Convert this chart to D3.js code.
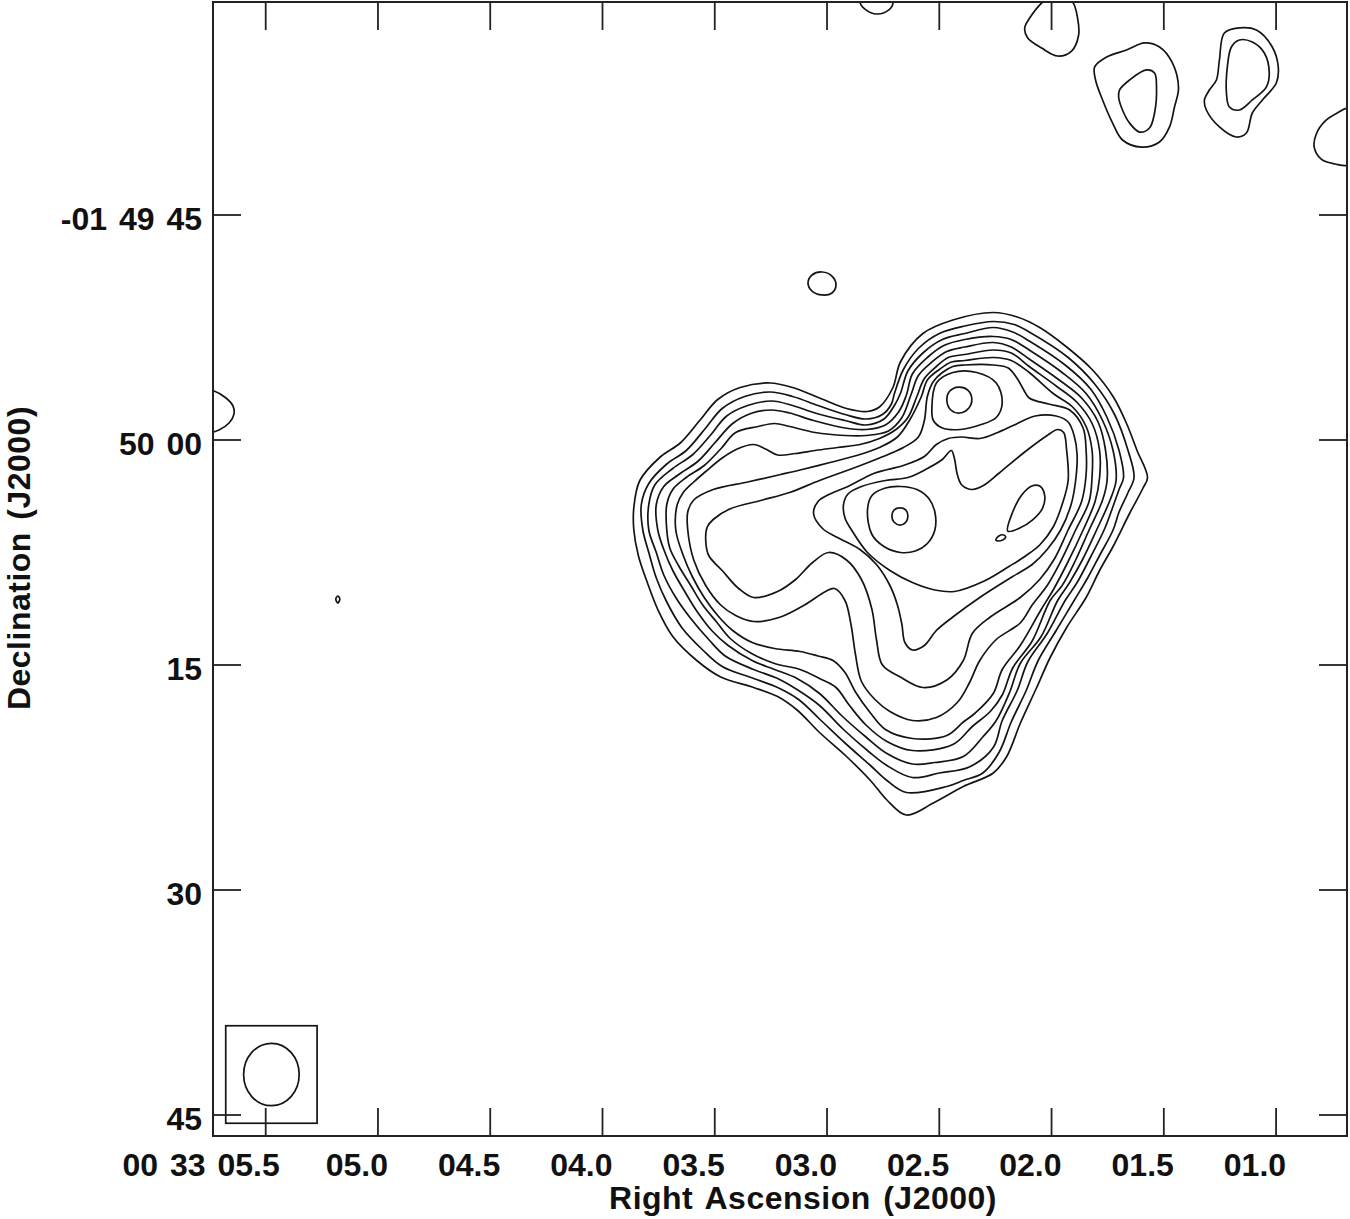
<!DOCTYPE html>
<html><head><meta charset="utf-8">
<script src="https://cdn.jsdelivr.net/npm/d3@7"></script>
<style>body{margin:0;background:#fff}</style>
</head><body>
<svg id="chart" width="1350" height="1219"></svg>
<script>
// ---------------- DATA ----------------
// Positions are offsets in arcsec from RA 00 33 03.0, Dec -01 50 00 (J2000):
// [east offset (arcsec, +E = left), north offset (arcsec)]
const raTickSec = [5.5, 5.0, 4.5, 4.0, 3.5, 3.0, 2.5, 2.0, 1.5, 1.0];
const raTickLabels = ["00 33 05.5", "05.0", "04.5", "04.0", "03.5", "03.0", "02.5", "02.0", "01.5", "01.0"];
const decTickArcsec = [15, 0, -15, -30, -45];
const decTickLabels = ["-01 49 45", "50 00", "15", "30", "45"];

const L1 = [[12.9,-6.0],[12.9,-4.5],[12.5,-2.7],[11.1,-1.1],[9.8,-0.2],[8.5,1.3],[7.3,2.7],[5.8,3.5],[3.8,3.8],[2.3,3.5],[0.5,2.8],[-1.3,2.1],[-2.7,1.9],[-3.5,2.2],[-4.4,3.5],[-4.9,5.2],[-6.4,7.1],[-8.4,8.0],[-11.1,8.5],[-12.7,8.2],[-14.2,7.5],[-16.0,6.2],[-17.7,4.7],[-19.1,2.9],[-20.0,1.1],[-20.7,-0.7],[-21.4,-2.5],[-21.1,-3.2],[-20.2,-4.9],[-19.1,-7.1],[-18.2,-8.7],[-17.3,-10.5],[-16.0,-12.5],[-14.9,-14.5],[-14.0,-16.5],[-12.9,-18.9],[-12.0,-21.1],[-11.1,-22.2],[-9.1,-23.1],[-7.1,-24.2],[-5.3,-25.0],[-4.0,-24.0],[-2.9,-22.7],[-1.3,-21.1],[0.5,-19.5],[2.0,-18.0],[3.3,-17.1],[4.9,-16.5],[7.1,-15.8],[8.7,-14.7],[10.3,-13.1],[11.3,-11.3],[12.0,-9.5],[12.6,-7.7]];
const L2 = [[12.3,-6.0],[12.4,-4.3],[11.9,-2.9],[10.7,-1.6],[9.4,-0.7],[8.1,0.8],[7.0,2.1],[5.5,2.9],[3.8,3.2],[2.3,2.9],[0.6,2.3],[-1.2,1.7],[-2.6,1.4],[-3.7,1.7],[-4.3,2.4],[-4.5,3.1],[-5.1,4.7],[-6.1,6.1],[-7.5,7.1],[-9.2,7.6],[-11.1,7.9],[-12.5,7.7],[-13.5,7.2],[-16.1,5.5],[-17.9,3.7],[-19.2,1.7],[-20.1,-0.7],[-20.5,-2.5],[-20.1,-3.5],[-19.5,-4.8],[-19.1,-6.0],[-18.2,-7.7],[-17.4,-9.2],[-16.5,-10.7],[-15.3,-12.7],[-14.1,-14.7],[-13.3,-16.7],[-12.3,-18.8],[-11.5,-20.8],[-10.4,-22.2],[-9.1,-22.7],[-8.0,-23.1],[-5.3,-23.5],[-4.0,-22.7],[-2.9,-21.7],[-1.2,-20.2],[0.5,-18.6],[1.9,-17.3],[3.3,-16.5],[4.9,-15.9],[7.0,-15.1],[8.3,-14.0],[9.7,-12.5],[10.7,-10.8],[11.4,-9.2],[11.9,-7.5]];
const L3 = [[11.9,-6.0],[11.9,-4.3],[11.5,-3.0],[10.3,-1.9],[9.0,-1.0],[7.8,0.3],[6.7,1.6],[5.3,2.3],[3.7,2.6],[2.3,2.3],[0.8,1.8],[-1.2,1.3],[-2.6,1.0],[-3.8,1.4],[-4.5,2.3],[-4.9,3.1],[-5.4,4.6],[-6.4,5.8],[-7.7,6.7],[-9.2,7.1],[-11.1,7.5],[-12.4,7.2],[-13.5,6.6],[-15.9,5.0],[-17.6,3.4],[-18.7,1.5],[-19.5,-0.7],[-19.8,-2.5],[-19.5,-3.3],[-19.0,-4.7],[-18.5,-6.0],[-17.6,-7.8],[-16.7,-9.5],[-15.9,-10.7],[-14.7,-12.9],[-13.4,-14.8],[-12.7,-16.7],[-11.7,-18.7],[-11.1,-20.5],[-9.5,-21.8],[-7.5,-22.2],[-5.7,-22.5],[-4.0,-21.7],[-2.7,-20.7],[-1.1,-19.3],[0.5,-17.7],[1.9,-16.7],[3.3,-15.9],[4.9,-15.3],[6.8,-14.4],[7.9,-13.3],[9.1,-11.9],[10.1,-10.5],[10.9,-9.0],[11.4,-7.5]];
const L4 = [[11.3,-6.0],[11.4,-4.3],[10.9,-3.1],[9.9,-2.3],[8.6,-1.4],[7.5,-0.2],[6.3,1.1],[5.0,1.8],[3.7,2.0],[2.5,1.8],[0.9,1.3],[-1.2,0.8],[-2.6,0.7],[-3.9,1.0],[-4.8,1.9],[-5.3,3.0],[-5.7,4.4],[-6.7,5.5],[-7.8,6.3],[-9.2,6.7],[-11.1,6.9],[-12.3,6.7],[-13.5,6.0],[-15.7,4.5],[-17.3,3.1],[-18.4,1.3],[-19.1,-0.7],[-19.3,-2.7],[-18.9,-4.0],[-18.0,-6.0],[-17.1,-7.9],[-16.2,-9.5],[-15.4,-10.7],[-14.3,-13.1],[-12.9,-14.9],[-12.2,-16.8],[-11.3,-18.7],[-10.4,-19.8],[-9.1,-21.1],[-7.2,-21.5],[-5.7,-21.6],[-4.0,-20.9],[-2.6,-19.8],[-1.0,-18.4],[0.5,-16.9],[2.0,-15.9],[3.5,-15.3],[5.0,-14.7],[6.6,-13.7],[7.7,-12.7],[8.7,-11.4],[9.5,-10.1],[10.3,-8.7],[10.9,-7.3]];
const L5 = [[10.7,-6.0],[10.7,-4.3],[10.3,-3.3],[9.4,-2.5],[8.2,-1.7],[7.1,-0.6],[6.1,0.5],[4.6,0.9],[3.5,1.1],[2.5,0.9],[0.8,0.5],[-1.2,0.3],[-2.6,0.3],[-4.1,0.6],[-5.0,1.5],[-5.6,3.0],[-6.1,4.3],[-7.0,5.2],[-8.0,5.9],[-9.2,6.2],[-11.1,6.5],[-12.3,6.2],[-13.5,5.4],[-15.5,4.0],[-17.0,2.8],[-18.1,1.2],[-18.6,-0.7],[-18.7,-2.7],[-18.4,-4.0],[-17.5,-6.0],[-16.6,-8.0],[-15.7,-9.7],[-14.9,-10.7],[-13.7,-13.4],[-12.4,-15.2],[-11.7,-17.0],[-10.9,-18.1],[-9.7,-19.1],[-8.4,-20.3],[-5.7,-20.7],[-4.0,-20.1],[-2.6,-19.0],[-1.5,-17.7],[-0.6,-16.5],[0.5,-15.9],[1.8,-15.3],[3.5,-14.9],[5.1,-14.2],[6.5,-13.2],[7.4,-12.1],[8.3,-11.0],[9.1,-9.7],[9.9,-8.4],[10.5,-7.2]];
const L6 = [[10.1,-6.0],[10.0,-4.3],[9.6,-3.5],[8.9,-2.8],[8.1,-2.1],[7.0,-1.2],[6.0,-0.6],[4.9,-0.3],[4.1,-0.6],[3.3,-1.0],[2.1,-0.9],[0.8,-0.7],[-0.7,-0.5],[-2.2,-0.3],[-3.5,0.1],[-4.6,0.7],[-5.4,1.5],[-6.0,2.9],[-6.5,4.1],[-7.3,4.9],[-8.1,5.5],[-9.2,5.7],[-11.1,6.0],[-12.3,5.8],[-13.5,4.9],[-15.3,3.6],[-16.7,2.5],[-17.7,1.1],[-18.2,-0.7],[-18.2,-2.5],[-17.9,-4.1],[-17.1,-6.0],[-16.1,-8.1],[-15.1,-10.0],[-14.3,-11.3],[-12.9,-13.7],[-11.7,-15.3],[-11.1,-16.9],[-9.9,-18.2],[-9.1,-18.8],[-8.0,-19.7],[-5.7,-19.9],[-3.9,-19.3],[-2.9,-18.2],[-1.9,-16.8],[-1.2,-15.5],[-0.4,-14.7],[0.6,-14.4],[1.8,-14.1],[3.5,-13.9],[5.0,-13.5],[6.3,-12.7],[7.3,-11.7],[8.2,-10.5],[9.0,-9.1],[9.6,-7.7]];
const L7 = [[9.3,-6.0],[9.3,-4.8],[8.9,-4.0],[7.6,-3.3],[5.3,-2.8],[3.1,-2.3],[1.8,-2.0],[-0.2,-1.5],[-2.1,-1.0],[-3.5,-0.5],[-4.7,0.2],[-5.5,1.3],[-6.3,2.9],[-6.7,4.0],[-7.5,4.7],[-8.3,5.2],[-9.2,5.3],[-11.1,5.5],[-12.3,5.3],[-13.5,4.5],[-15.1,3.1],[-16.4,2.2],[-17.3,0.9],[-17.7,-0.7],[-17.7,-2.4],[-17.5,-4.1],[-16.6,-6.0],[-15.6,-8.1],[-14.7,-9.7],[-13.7,-11.0],[-12.9,-12.2],[-11.3,-13.3],[-10.2,-14.7],[-9.5,-16.2],[-8.7,-17.5],[-7.3,-18.5],[-5.7,-18.7],[-4.2,-18.1],[-3.2,-17.3],[-2.3,-16.1],[-1.9,-14.3],[-1.6,-12.3],[-1.2,-10.7],[-0.5,-9.9],[0.1,-10.1],[1.5,-11.0],[3.1,-11.8],[4.9,-12.1],[6.1,-11.7],[7.1,-11.0],[8.1,-9.7],[8.9,-8.0]];
const L8 = [[8.1,-6.7],[8.0,-5.8],[7.6,-5.3],[6.5,-4.6],[4.3,-4.0],[2.5,-3.5],[0.5,-2.7],[-1.7,-1.9],[-3.5,-1.2],[-5.1,-0.5],[-6.1,0.2],[-6.5,1.3],[-6.7,2.9],[-7.1,3.9],[-7.7,4.5],[-8.4,4.9],[-9.2,5.0],[-11.1,5.0],[-12.1,4.8],[-12.7,4.1],[-13.1,3.4],[-13.5,2.8],[-14.8,2.4],[-16.2,2.0],[-17.1,0.8],[-17.3,-0.7],[-17.3,-2.3],[-17.0,-4.1],[-16.1,-6.0],[-15.2,-7.9],[-14.2,-9.3],[-12.9,-10.5],[-10.9,-11.8],[-9.7,-12.9],[-9.1,-14.7],[-8.0,-16.0],[-6.4,-16.5],[-4.9,-15.8],[-3.7,-15.0],[-3.3,-13.3],[-3.0,-11.3],[-2.3,-9.3],[-1.3,-8.0],[-0.1,-7.5],[1.0,-8.2],[2.1,-9.3],[3.3,-10.1],[4.9,-10.5],[5.9,-9.9],[7.0,-8.7],[7.9,-7.7]];
const C9 = [[0.9,-4.9],[0.6,-4.1],[-0.2,-3.6],[-1.4,-3.1],[-3.2,-2.2],[-5.1,-1.7],[-6.5,-1.1],[-7.3,-0.3],[-8.1,0.1],[-9.0,0.2],[-10.2,0.1],[-11.4,0.5],[-12.5,1.0],[-13.9,1.6],[-15.3,1.6],[-16.1,1.2],[-16.5,0.3],[-16.7,-1.0],[-16.6,-2.7],[-16.3,-4.3],[-15.6,-6.0],[-14.7,-7.3],[-13.7,-8.3],[-12.4,-9.1],[-10.2,-10.5],[-8.4,-11.8],[-7.3,-12.7],[-6.5,-13.7],[-5.7,-14.0],[-5.2,-13.5],[-5.0,-12.3],[-4.7,-11.0],[-4.2,-9.7],[-3.3,-8.3],[-2.2,-7.3],[-0.7,-6.5],[0.3,-5.9]];
const C10 = [[-1.1,-4.3],[-1.4,-3.6],[-2.3,-3.1],[-3.9,-2.7],[-5.4,-2.5],[-6.7,-1.9],[-7.7,-1.3],[-8.3,-0.7],[-8.5,-1.2],[-8.7,-2.3],[-9.0,-3.0],[-9.7,-3.3],[-10.5,-3.0],[-11.5,-2.2],[-13.2,-0.8],[-14.7,0.3],[-15.4,0.7],[-15.8,0.5],[-16.0,-0.7],[-16.1,-2.7],[-15.7,-4.3],[-15.1,-5.8],[-14.2,-7.0],[-13.3,-7.7],[-12.2,-8.4],[-10.5,-9.4],[-8.5,-10.1],[-7.2,-10.0],[-5.7,-9.5],[-4.2,-8.7],[-2.7,-7.5],[-1.7,-6.1],[-1.2,-5.2]];
const northLoop = [[-7.0,2.1],[-7.3,3.8],[-8.4,4.5],[-10.0,4.5],[-11.3,3.8],[-11.7,2.5],[-11.3,1.5],[-10.2,1.0],[-8.9,0.7],[-7.7,0.8],[-7.1,1.3]];
const northPeak = [[-8.0,2.67],[-8.2,3.27],[-8.8,3.53],[-9.4,3.33],[-9.67,2.73],[-9.47,2.13],[-8.87,1.8],[-8.27,2.0]];
const centralLoop = [[-2.7,-4.7],[-3.0,-3.7],[-3.9,-3.2],[-4.9,-3.1],[-6.0,-3.3],[-6.8,-3.9],[-7.2,-4.8],[-7.2,-6.0],[-6.7,-6.9],[-5.9,-7.4],[-4.9,-7.5],[-3.8,-7.1],[-3.0,-6.3]];
const centralPeak = [[-4.33,-5.07],[-4.47,-4.67],[-4.87,-4.53],[-5.27,-4.67],[-5.4,-5.07],[-5.27,-5.47],[-4.87,-5.67],[-4.47,-5.47]];
const eastDrop = [[-12.07,-6.07],[-12.4,-4.8],[-13.0,-3.67],[-13.67,-3.07],[-14.2,-3.07],[-14.53,-3.67],[-14.4,-4.53],[-13.73,-5.33],[-12.87,-5.87]];
const eastSpeck = [[-11.27,-6.67],[-11.47,-6.4],[-11.8,-6.33],[-11.93,-6.47],[-11.73,-6.67],[-11.4,-6.73]];
const blobNorth = [[1.27,10.47],[1.0,11.0],[0.33,11.2],[-0.33,10.93],[-0.6,10.33],[-0.33,9.8],[0.33,9.67],[1.0,9.93]];
const blobWestEdge = [[40.93,3.27],[40.13,2.8],[39.67,2.27],[39.6,1.73],[39.93,1.13],[40.6,0.67],[41.47,0.47],[42.47,0.8],[42.8,1.87],[42.33,2.93],[41.6,3.33]];
const blobDot = [[32.67,-10.4],[32.53,-10.6],[32.67,-10.87],[32.8,-10.6]];
const blobTopA = [[-2.2,29.2],[-2.53,28.73],[-3.33,28.4],[-4.13,28.67],[-4.4,29.13],[-4.07,29.67],[-3.2,29.87],[-2.4,29.6]];
const blobTopB = [[-14.4,29.2],[-13.53,28.13],[-13.2,27.47],[-13.4,26.8],[-14.33,26.13],[-15.4,25.6],[-16.33,25.93],[-16.8,27.0],[-16.73,28.13],[-16.4,29.2],[-15.4,29.87]];
const blobC_outer = [[-17.87,24.87],[-18.67,25.53],[-20.0,26.0],[-21.2,26.47],[-22.2,26.2],[-23.07,25.13],[-23.47,23.47],[-23.2,22.2],[-22.87,20.87],[-22.2,19.87],[-21.0,19.53],[-19.73,20.0],[-19.07,21.13],[-18.4,22.67],[-17.93,24.0]];
const blobC_inner = [[-19.53,23.33],[-20.2,24.0],[-21.33,24.67],[-21.87,24.47],[-22.0,23.53],[-21.87,21.8],[-21.53,20.8],[-20.87,20.53],[-20.2,21.13],[-19.73,22.0],[-19.47,22.87]];
const blobD_outer = [[-26.53,27.13],[-27.53,27.47],[-28.67,27.33],[-29.73,26.2],[-30.13,24.87],[-30.0,23.8],[-29.07,22.67],[-28.4,21.8],[-28.0,20.47],[-27.33,20.2],[-26.2,20.87],[-25.33,22.0],[-25.2,22.67],[-25.53,23.33],[-26.0,24.0],[-26.2,25.33]];
const blobD_inner = [[-27.0,26.2],[-27.53,26.67],[-28.4,26.53],[-29.2,25.8],[-29.53,24.47],[-29.33,23.53],[-28.4,22.67],[-27.53,22.0],[-26.87,22.2],[-26.67,23.13],[-26.73,24.87]];
const blobEastEdge = [[-34.87,22.13],[-34.07,21.8],[-33.27,21.27],[-32.67,20.4],[-32.53,19.53],[-33.0,18.73],[-33.93,18.4],[-34.87,18.33],[-35.67,19.33],[-35.67,21.33]];

// restoring beam (arcsec)
const beamCenter = [37.1, -42.3];
const beamMajor = 4.16, beamMinor = 3.71, beamPA = 0;
const beamBoxSize = [6.1, 6.5];

// ---------------- DRAWING ----------------
const cosDec = Math.cos((1 + 50/60) * Math.PI / 180);
const plot = {left: 213, right: 1347, top: 2, bottom: 1136};
const x = d3.scaleLinear().domain([41.0, -34.72]).range([plot.left, plot.right]);
const y = d3.scaleLinear().domain([29.2, -46.4]).range([plot.top, plot.bottom]);

const svg = d3.select("#chart");
svg.append("defs").append("clipPath").attr("id", "clip")
  .append("rect").attr("x", plot.left).attr("y", plot.top)
  .attr("width", plot.right - plot.left).attr("height", plot.bottom - plot.top);

const ink = "#141414";
const line = d3.line().x(d => x(d[0])).y(d => y(d[1])).curve(d3.curveCatmullRomClosed.alpha(0.5));

const contours = [L1, L2, L3, L4, L5, L6, L7, L8, C9, C10, northLoop, northPeak,
  centralLoop, centralPeak, eastDrop, eastSpeck, blobNorth, blobWestEdge, blobDot,
  blobTopA, blobTopB, blobC_outer, blobC_inner, blobD_outer, blobD_inner, blobEastEdge];

svg.append("g").attr("clip-path", "url(#clip)")
  .selectAll("path").data(contours).join("path")
  .attr("d", line).attr("fill", "none").attr("stroke", ink)
  .attr("stroke-width", 1.7).attr("stroke-linejoin", "round");

// beam
const bg = svg.append("g");
bg.append("rect")
  .attr("x", x(beamCenter[0] + beamBoxSize[0] / 2))
  .attr("y", y(beamCenter[1] + beamBoxSize[1] / 2))
  .attr("width", x(beamCenter[0] - beamBoxSize[0] / 2) - x(beamCenter[0] + beamBoxSize[0] / 2))
  .attr("height", y(beamCenter[1] - beamBoxSize[1] / 2) - y(beamCenter[1] + beamBoxSize[1] / 2))
  .attr("fill", "none").attr("stroke", ink).attr("stroke-width", 1.7);
bg.append("ellipse")
  .attr("cx", x(beamCenter[0])).attr("cy", y(beamCenter[1]))
  .attr("rx", x(0) - x(beamMinor / 2)).attr("ry", y(-beamMajor / 2) - y(0))
  .attr("transform", `rotate(${beamPA},${x(beamCenter[0])},${y(beamCenter[1])})`)
  .attr("fill", "none").attr("stroke", ink).attr("stroke-width", 1.7);

// frame
svg.append("rect").attr("x", plot.left).attr("y", plot.top)
  .attr("width", plot.right - plot.left).attr("height", plot.bottom - plot.top)
  .attr("fill", "none").attr("stroke", "#222").attr("stroke-width", 2);

// ticks
const tickLen = 28;
const raE = raTickSec.map(s => (s - 3.0) * 15 * cosDec);
const tg = svg.append("g").attr("stroke", "#222").attr("stroke-width", 1.8);
raE.forEach(e => {
  tg.append("line").attr("x1", x(e)).attr("x2", x(e)).attr("y1", plot.bottom).attr("y2", plot.bottom - tickLen);
  tg.append("line").attr("x1", x(e)).attr("x2", x(e)).attr("y1", plot.top).attr("y2", plot.top + tickLen);
});
decTickArcsec.forEach(n => {
  tg.append("line").attr("x1", plot.left).attr("x2", plot.left + tickLen).attr("y1", y(n)).attr("y2", y(n));
  tg.append("line").attr("x1", plot.right).attr("x2", plot.right - tickLen).attr("y1", y(n)).attr("y2", y(n));
});

const font = "'Liberation Sans', Arial, Helvetica, sans-serif";
const lg = svg.append("g").attr("font-family", font).attr("font-weight", "bold")
  .attr("font-size", 32).attr("fill", "#111").attr("word-spacing", "3px");
raE.forEach((e, i) => {
  lg.append("text").attr("x", x(e) + (i === 0 ? 14 : 10)).attr("y", 1175.5)
    .attr("text-anchor", "end").text(raTickLabels[i]);
});
decTickArcsec.forEach((n, i) => {
  lg.append("text").attr("x", 202).attr("y", y(n) + 15)
    .attr("text-anchor", "end").text(decTickLabels[i]);
});
lg.append("text").attr("x", 803).attr("y", 1209).attr("text-anchor", "middle")
  .attr("letter-spacing", "0.5px").text("Right Ascension (J2000)");
lg.append("text").attr("transform", "translate(30,558) rotate(-90)")
  .attr("text-anchor", "middle").attr("letter-spacing", "0.5px").text("Declination (J2000)");
</script>
</body></html>
